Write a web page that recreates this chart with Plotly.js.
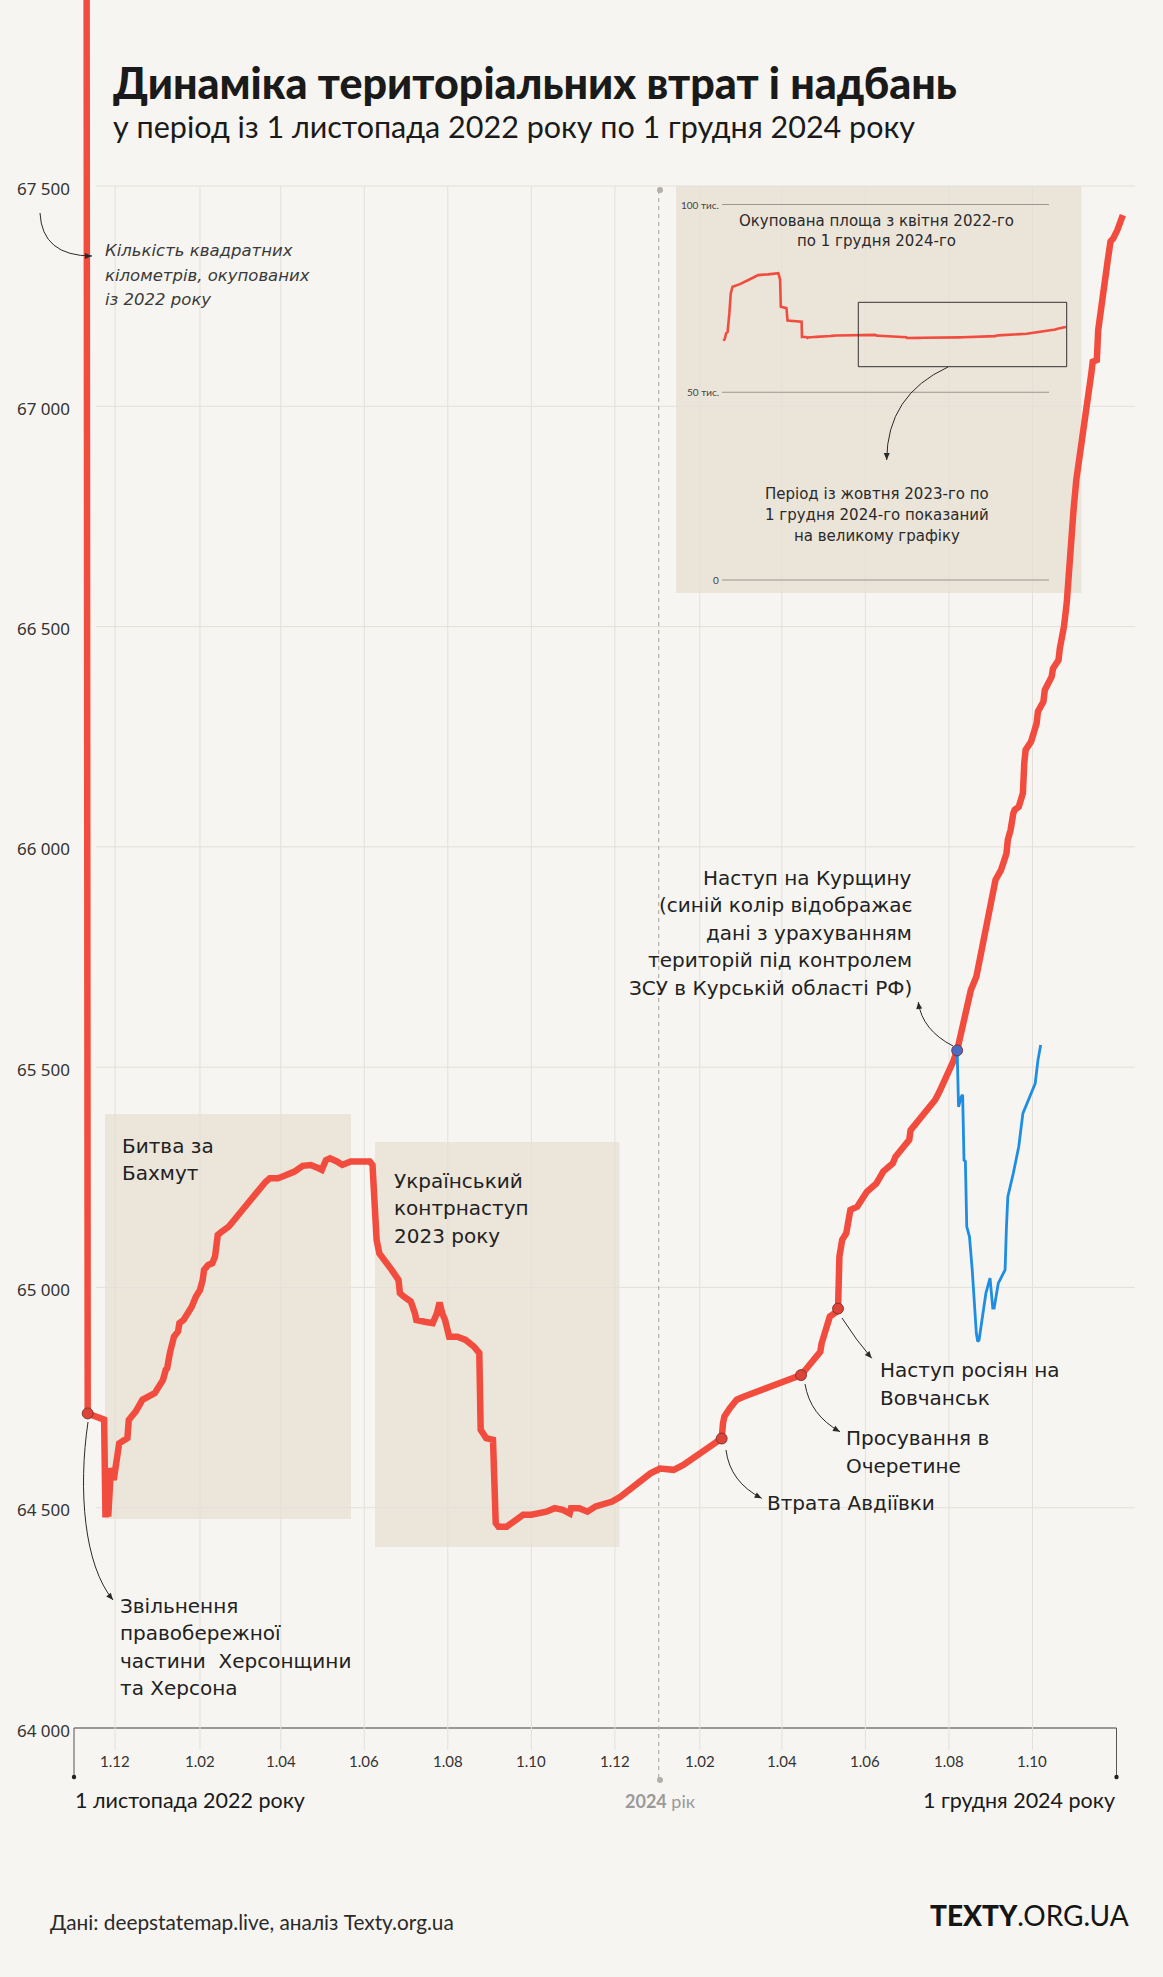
<!DOCTYPE html>
<html><head><meta charset="utf-8">
<script src="https://cdn.plot.ly/plotly-3.0.1.min.js"></script>
<style>html,body{margin:0;padding:0;background:#f7f5f1;} #chart{width:1163px;height:1977px;}</style>
</head><body><div id="chart"></div>
<script>
// ---------------- DATA ----------------
const dates = [
'2022-11-01','2022-11-10','2022-11-11','2022-11-23','2022-11-24','2022-11-25','2022-11-26','2022-11-27','2022-11-28','2022-11-30',
'2022-12-03','2022-12-04','2022-12-10','2022-12-11','2022-12-16','2022-12-21','2022-12-30',
'2023-01-05','2023-01-07','2023-01-08','2023-01-10','2023-01-11','2023-01-13','2023-01-16','2023-01-17','2023-01-20','2023-01-23','2023-01-26','2023-01-29',
'2023-02-01','2023-02-03','2023-02-04','2023-02-07','2023-02-10','2023-02-12','2023-02-13','2023-02-14','2023-02-17','2023-02-22','2023-02-26','2023-02-28',
'2023-03-03','2023-03-06','2023-03-09','2023-03-13','2023-03-18','2023-03-21','2023-03-24','2023-03-30',
'2023-04-05','2023-04-11','2023-04-17','2023-04-23','2023-04-29',
'2023-05-01','2023-05-04','2023-05-07','2023-05-12','2023-05-16','2023-05-22','2023-05-28',
'2023-06-05','2023-06-07','2023-06-09','2023-06-10','2023-06-12','2023-06-17','2023-06-21','2023-06-26','2023-06-27','2023-06-30',
'2023-07-05','2023-07-08','2023-07-09','2023-07-15','2023-07-21','2023-07-24','2023-07-26','2023-07-28','2023-07-30',
'2023-08-02','2023-08-08','2023-08-14','2023-08-20','2023-08-24','2023-08-25','2023-08-29',
'2023-09-03','2023-09-05','2023-09-07','2023-09-13','2023-09-19','2023-09-25',
'2023-10-01','2023-10-06','2023-10-12','2023-10-18','2023-10-24','2023-10-29','2023-10-30',
'2023-11-05','2023-11-11','2023-11-17','2023-11-23','2023-11-29',
'2023-12-05','2023-12-11','2023-12-17','2023-12-19','2023-12-27',
'2024-01-03','2024-01-13','2024-01-20','2024-01-27',
'2024-02-03','2024-02-10','2024-02-17','2024-02-18','2024-02-19','2024-02-23','2024-02-28',
'2024-03-04','2024-03-14','2024-03-23',
'2024-04-02','2024-04-09','2024-04-15','2024-04-19','2024-04-24','2024-04-29','2024-04-30',
'2024-05-03','2024-05-06','2024-05-11','2024-05-12','2024-05-13','2024-05-15','2024-05-18','2024-05-20','2024-05-21','2024-05-26','2024-05-31',
'2024-06-02','2024-06-09','2024-06-14','2024-06-21','2024-06-23','2024-06-28',
'2024-07-03','2024-07-04','2024-07-08','2024-07-13','2024-07-18','2024-07-22','2024-07-25','2024-07-30',
'2024-08-04','2024-08-07','2024-08-10','2024-08-14','2024-08-17','2024-08-21','2024-08-23','2024-08-27','2024-08-29',
'2024-09-01','2024-09-04','2024-09-08','2024-09-12','2024-09-13','2024-09-15','2024-09-17','2024-09-18','2024-09-21','2024-09-24','2024-09-25','2024-09-26','2024-09-30',
'2024-10-02','2024-10-04','2024-10-05','2024-10-09','2024-10-10','2024-10-15','2024-10-16','2024-10-20','2024-10-21','2024-10-22','2024-10-24','2024-10-26','2024-10-27','2024-10-28','2024-10-30','2024-10-31',
'2024-11-02','2024-11-05','2024-11-07','2024-11-09','2024-11-11','2024-11-13','2024-11-14','2024-11-17','2024-11-18','2024-11-20','2024-11-23','2024-11-25','2024-11-27','2024-11-29',
'2024-12-02','2024-12-04','2024-12-06'
];
const occupied = [
68950,68900,64714,64700,64478,64560,64480,64575,64590,64563,
64616,64646,64658,64699,64718,64745,64760,
64790,64813,64816,64851,64866,64888,64900,64919,64926,64941,64956,64979,
64994,65017,65040,65051,65055,65070,65108,65119,65127,65138,65153,65161,
65168,65180,65191,65210,65229,65240,65248,65248,
65255,65263,65276,65278,65270,
65267,65289,65293,65286,65278,65286,65287,
65286,65278,65168,65108,65077,65059,65040,65017,64987,64979,
64968,64941,64926,64922,64919,64941,64966,64941,64926,
64888,64888,64881,64866,64851,64677,64658,
64654,64465,64457,64457,64472,64484,
64484,64487,64491,64499,64495,64487,64499,
64499,64491,64503,64510,64514,
64525,64540,64556,64559,64578,
64589,64586,64597,64612,
64627,64642,64657,64692,64707,64726,64745,
64752,64763,64775,
64786,64794,64801,64816,64835,64854,64873,
64903,64934,64945,64952,65070,65108,65123,65153,65176,65183,65210,
65217,65236,65263,65282,65297,65316,
65335,65357,65373,65392,65410,65426,65444,65475,
65512,65538,65584,65637,65675,65705,65736,65789,65819,
65864,65925,65947,65985,66016,66038,66076,66084,66091,66122,66190,66220,66239,
66258,66280,66307,66330,66356,66386,66405,66424,66451,66466,66500,66553,66606,66666,66719,66765,
66833,66893,66939,66984,67029,67075,67101,67105,67173,67226,67287,67332,67374,67381,
67400,67419,67434
];
// with Ukrainian-held territory in Kursk region counted
const kurskDates = ['2024-08-07','2024-08-08','2024-08-10','2024-08-11','2024-08-12','2024-08-13','2024-08-14','2024-08-16','2024-08-18','2024-08-21','2024-08-22','2024-08-23','2024-08-28','2024-08-31','2024-09-02','2024-09-03','2024-09-06','2024-09-11','2024-09-12','2024-09-13','2024-09-17','2024-09-21','2024-09-24','2024-09-29','2024-10-03','2024-10-05','2024-10-07'];
const kurskValues = [65538,65410,65433,65437,65289,65286,65138,65115,65040,64896,64877,64881,64987,65021,64953,64953,65009,65040,65138,65206,65259,65320,65395,65433,65463,65516,65550];
// events
const eventDates = ['2022-11-11','2024-02-17','2024-04-15','2024-05-12','2024-08-07'];
const eventValues = [64714,64657,64801,64952,65538];
// inset: April 2022 - November 2022 (rest continues from the main series)
const insetDates = ['2022-04-02','2022-04-06','2022-04-10','2022-04-14','2022-04-19','2022-04-23','2022-04-28','2022-05-19','2022-06-12','2022-07-10','2022-08-07','2022-09-05','2022-09-10','2022-09-12','2022-09-28','2022-10-01','2022-11-10'];
const insetValues = [63700,64200,65700,66000,71000,76300,78100,78800,79900,81200,81400,81700,80000,72800,72400,69100,68800];
// ticks
const yTickValues = [64000,64500,65000,65500,66000,66500,67000,67500];
const yTickLabels = ['64 000','64 500','65 000','65 500','66 000','66 500','67 000','67 500'];
const xTickDates = ['2022-12-01','2023-02-01','2023-04-01','2023-06-01','2023-08-01','2023-10-01','2023-12-01','2024-02-01','2024-04-01','2024-06-01','2024-08-01','2024-10-01'];
const xTickLabels = ['1.12','1.02','1.04','1.06','1.08','1.10','1.12','1.02','1.04','1.06','1.08','1.10'];
const insetTickValues = [0,50000,100000];
const insetTickLabels = ['0','50 тис.','100 тис.'];

// ---------------- LAYOUT HELPERS ----------------
const W = 1163, H = 1977;
const BG = '#f7f5f1', RED = '#f24c3f', BLUE = '#1f8de2', BEIGE = '#ece5da', GRID = '#e3e0da';
const HEAD = 'Lato, sans-serif', BODY = '"DejaVu Sans", sans-serif', NUM = '"Noto Sans", sans-serif';
const DAY = 86400000;
const px = x => x / W, py = y => 1 - y / H;
function ms2str(ms){ return new Date(ms).toISOString().replace('T',' ').replace('Z',''); }
// main axis: 1 Nov 2022 at x=74px, 1 Dec 2024 at x=1116px ; 64000 at y=1728px, 67500 at y=186px
const PXD = 1042 / 761, T0 = Date.UTC(2022,10,1);
const xRange = [ms2str(T0 - 74 / PXD * DAY), ms2str(T0 + (W - 74) / PXD * DAY)];
const PXU = 1542 / 3500;
const yRange = [64000 - (H - 1728) / PXU, 64000 + 1728 / PXU];
// inset axis: 1 Apr 2022 at 723px, 0.3525 px/day ; 0 at y=580, 3.755 px per 1000
const TA = Date.UTC(2022,3,1), IPXD = 0.3525, IPXK = 3.755;
const inXRange = [ms2str(TA + (700 - 723) / IPXD * DAY), ms2str(TA + (1080 - 723) / IPXD * DAY)];
const inYRange = [-(590 - 580) / IPXK * 1000, (580 - 190) / IPXK * 1000];

const shapes = [];
const annotations = [];
function rectPx(x0,y0,x1,y1,color){ shapes.push({type:'rect',xref:'paper',yref:'paper',x0:px(x0),x1:px(x1),y0:py(y1),y1:py(y0),fillcolor:color,line:{width:0},layer:'below'}); }
function linePx(x0,y0,x1,y1,color,width,dash){ shapes.push({type:'line',xref:'paper',yref:'paper',x0:px(x0),x1:px(x1),y0:py(y0),y1:py(y1),line:{color:color,width:width,dash:dash||'solid'},layer:'below'}); }
function dotPx(x,y,r,color){ shapes.push({type:'circle',xref:'paper',yref:'paper',x0:px(x-r),x1:px(x+r),y0:py(y+r),y1:py(y-r),fillcolor:color,line:{width:0},layer:'above'}); }
function text(t,x,yc,anchor,size,font,color,extra){ annotations.push(Object.assign({text:t,xref:'paper',yref:'paper',x:px(x),y:py(yc),xanchor:anchor,yanchor:'middle',showarrow:false,font:{family:font,size:size,color:color}},extra||{})); }
function lines(arr,x,base0,lh,anchor,size,font,color){ arr.forEach((t,i)=>text(t,x,base0+i*lh-0.37*size,anchor,size,font,color)); }
function arrow(pts){
  const p = pts.map(q=>[px(q[0]),py(q[1])]);
  let path = `M ${p[0][0]} ${p[0][1]} `;
  if (pts.length===3) path += `Q ${p[1][0]} ${p[1][1]} ${p[2][0]} ${p[2][1]}`;
  else if (pts.length===4) path += `C ${p[1][0]} ${p[1][1]} ${p[2][0]} ${p[2][1]} ${p[3][0]} ${p[3][1]}`;
  else path += `L ${p[1][0]} ${p[1][1]}`;
  shapes.push({type:'path',xref:'paper',yref:'paper',path:path,line:{color:'#2a2a2a',width:1},layer:'above'});
  const tip = pts[pts.length-1], from = pts[pts.length-2];
  const dx = tip[0]-from[0], dy = tip[1]-from[1], L = Math.hypot(dx,dy), ux = dx/L, uy = dy/L;
  const len = 7, half = 3;
  const bx = tip[0]-ux*len, by = tip[1]-uy*len;
  const a = [bx-uy*half, by+ux*half], b = [bx+uy*half, by-ux*half];
  shapes.push({type:'path',xref:'paper',yref:'paper',path:`M ${px(tip[0])} ${py(tip[1])} L ${px(a[0])} ${py(a[1])} L ${px(b[0])} ${py(b[1])} Z`,fillcolor:'#2a2a2a',line:{width:0},layer:'above'});
}

// shaded periods and inset background
rectPx(105,1114,351,1519,BEIGE);      // Bakhmut
rectPx(375,1142,619.5,1547,BEIGE);    // counteroffensive
rectPx(676,186,1081.5,593,'#ebe4d9'); // inset background

// gridlines
yTickValues.forEach(v=>{
  if (v===64000) shapes.push({type:'line',xref:'paper',yref:'y',x0:px(74),x1:px(1116.5),y0:v,y1:v,line:{color:'#7d7a76',width:1.5},layer:'below'});
  else shapes.push({type:'line',xref:'paper',yref:'y',x0:px(96),x1:px(1135),y0:v,y1:v,line:{color:GRID,width:1},layer:'below'});
});
xTickDates.forEach(d=>shapes.push({type:'line',xref:'x',yref:'paper',x0:d,x1:d,y0:py(186),y1:py(1750),line:{color:GRID,width:1},layer:'below'}));
// 2024 divider
shapes.push({type:'line',xref:'x',yref:'paper',x0:'2024-01-02',x1:'2024-01-02',y0:py(190),y1:py(1780),line:{color:'#b3afa9',width:1.2,dash:'4px,4px'},layer:'below'});
shapes.push({type:'circle',xref:'paper',yref:'paper',x0:px(657),x1:px(663),y0:py(193),y1:py(187),fillcolor:'#b3afa9',line:{width:0}});
shapes.push({type:'circle',xref:'paper',yref:'paper',x0:px(657),x1:px(663),y0:py(1783),y1:py(1777),fillcolor:'#b3afa9',line:{width:0}});
// axis ends
linePx(74,1728,74,1777,'#555',1);
linePx(1116.5,1728,1116.5,1777,'#555',1);
dotPx(74,1777,2.2,'#222');
dotPx(1116.5,1777,2.2,'#222');

// inset grid lines and box
insetTickValues.forEach((v,i)=>{
  shapes.push({type:'line',xref:'paper',yref:'y2',x0:px(722),x1:px(1049),y0:v,y1:v,line:{color:'#9a958f',width:1},layer:'below'});
  annotations.push({text:insetTickLabels[i],xref:'paper',yref:'y2',x:px(721),y:v,xanchor:'right',yanchor:'middle',showarrow:false,font:{family:HEAD,size:10,color:'#444'}});
});
shapes.push({type:'rect',xref:'paper',yref:'paper',x0:px(858.3),x1:px(1066.7),y0:py(366.7),y1:py(302.3),line:{color:'#333',width:1},fillcolor:'rgba(0,0,0,0)',layer:'above'});

// tick labels
yTickValues.forEach((v,i)=>annotations.push({text:yTickLabels[i],xref:'paper',yref:'y',x:px(72),y:v,xanchor:'right',yanchor:'middle',yshift:-2,showarrow:false,font:{family:NUM,size:17,color:'#333'}}));
xTickDates.forEach((d,i)=>annotations.push({text:xTickLabels[i],xref:'x',yref:'paper',x:d,y:py(1761),xanchor:'center',yanchor:'middle',showarrow:false,font:{family:HEAD,size:15,color:'#333'}}));
text('1 листопада 2022 року',73,1800,'left',21.5,HEAD,'#1a1a1a');
text('1 грудня 2024 року',1116.5,1800,'right',21.5,HEAD,'#1a1a1a');
text('<b>2024</b> рік',660,1801,'center',18,HEAD,'#9a9a9a');

// titles
text('Динаміка територіальних втрат і надбань',111,98-0.37*43,'left',43,HEAD,'#1a1a1a',{font:{family:HEAD,size:43,color:'#1a1a1a',weight:900}});
lines(['у період із 1 листопада 2022 року по 1 грудня 2024 року'],111,137,0,'left',30.5,HEAD,'#1a1a1a');
// footer
text('Дані: deepstatemap.live, аналіз Texty.org.ua',48,1921,'left',20.8,HEAD,'#2a2a2a');
text('<span style="font-weight:900">TEXTY</span>.ORG.UA',1131,1915,'right',28,HEAD,'#151515');

// annotations
lines(['<i>Кількість квадратних</i>','<i>кілометрів, окупованих</i>','<i>із 2022 року</i>'],103,257,24.2,'left',16.5,BODY,'#3a3a3a');
arrow([[40,213],[42,256],[92,256]]);
lines(['Битва за','Бахмут'],120,1153,27.5,'left',20,BODY,'#222');
lines(['Український','контрнаступ','2023 року'],392.5,1188,27.5,'left',20,BODY,'#222');
lines(['Наступ на Курщину','(синій колір відображає','дані з урахуванням','територій під контролем','ЗСУ в Курській області РФ)'],913.5,885,27.5,'right',20,BODY,'#222');
arrow([[953,1046],[922,1030],[918.3,1002]]);
lines(['Наступ росіян на','Вовчанськ'],878,1377,28,'left',20,BODY,'#222');
arrow([[842,1318],[856,1340],[871.7,1358.3]]);
lines(['Просування в','Очеретине'],844,1445,28,'left',20,BODY,'#222');
arrow([[805,1384],[810,1415],[840,1431.7]]);
lines(['Втрата Авдіївки'],765,1510,0,'left',20,BODY,'#222');
arrow([[726,1450],[730,1482],[761.7,1498.3]]);
lines(['Звільнення','правобережної','частини\u00a0 Херсонщини','та Херсона'],118,1613,27.6,'left',20,BODY,'#222');
arrow([[88,1422],[78,1490],[84,1565],[113,1600]]);
// inset texts
lines(['Окупована площа з квітня 2022-го','по 1 грудня 2024-го'],876,226.5,20.5,'center',15,BODY,'#2a2a2a');
arrow([[948,367],[887,395],[886.7,460]]);
lines(['Період із жовтня 2023-го по','1 грудня 2024-го показаний','на великому графіку'],876.5,500,21,'center',15,BODY,'#2a2a2a');

// ---------------- TRACES ----------------
const insetX = insetDates.concat(dates.filter(d=>d>='2022-11-11' && d<='2024-12-01'));
const insetY = insetValues.concat(occupied.filter((v,i)=>dates[i]>='2022-11-11' && dates[i]<='2024-12-01'));
const traces = [
  {x:dates,y:occupied,type:'scatter',mode:'lines',line:{color:RED,width:6.5},hoverinfo:'skip',xaxis:'x',yaxis:'y'},
  {x:kurskDates,y:kurskValues,type:'scatter',mode:'lines',line:{color:BLUE,width:2.8},hoverinfo:'skip',xaxis:'x',yaxis:'y'},
  {x:eventDates,y:eventValues,type:'scatter',mode:'markers',marker:{size:11,color:['#de4338','#de4338','#de4338','#de4338','#4b6cc2'],line:{color:'#6a2a24',width:0.8}},hoverinfo:'skip',xaxis:'x',yaxis:'y'},
  {x:insetX,y:insetY,type:'scatter',mode:'lines',line:{color:RED,width:2.6},hoverinfo:'skip',xaxis:'x2',yaxis:'y2'}
];
const layout = {
  width:W,height:H,margin:{l:0,r:0,t:0,b:0,pad:0},paper_bgcolor:BG,plot_bgcolor:'rgba(0,0,0,0)',showlegend:false,
  xaxis:{type:'date',range:xRange,domain:[0,1],visible:false,fixedrange:true},
  yaxis:{range:yRange,domain:[0,1],visible:false,fixedrange:true},
  xaxis2:{type:'date',range:inXRange,domain:[700/W,1080/W],anchor:'y2',visible:false},
  yaxis2:{range:inYRange,domain:[1-590/H,1-190/H],anchor:'x2',visible:false},
  shapes:shapes,annotations:annotations
};
Plotly.newPlot('chart',traces,layout,{displayModeBar:false,staticPlot:true});
</script></body></html>
